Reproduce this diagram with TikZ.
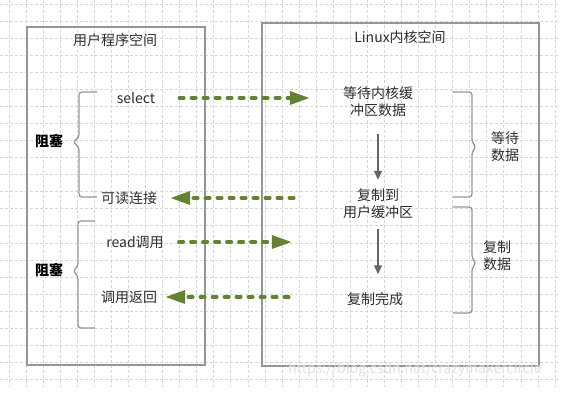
\documentclass[tikz,border=0pt]{standalone}
\usepackage{fontspec}
\setmainfont{Noto Sans CJK SC}
\usepackage{tikz}
\usetikzlibrary{arrows.meta}
\definecolor{callgreen}{RGB}{100,130,50}
\definecolor{framegray}{RGB}{150,150,150}
\definecolor{textgray}{RGB}{45,45,45}
\tikzstyle{gridline} = [black!16, line width=0.6pt, dash pattern=on 3pt off 2pt]
\tikzstyle{space} = [draw=framegray, line width=1.5pt]
\tikzstyle{txt} = [align=center, inner sep=0pt, text=textgray, font=\fontsize{14}{17}\selectfont]
\tikzstyle{block} = [txt, text=black, font=\fontsize{14}{17}\selectfont\bfseries]
\tikzstyle{call} = [line width=3.5pt, callgreen, line cap=round, dash pattern=on 4.5pt off 7.5pt, -{Triangle[length=20pt, width=13pt]}]
\tikzstyle{flow} = [line width=1.5pt, black!60, -{Triangle[length=9pt, width=8pt]}]
\tikzstyle{brace} = [draw=framegray, line width=1.3pt, rounded corners=3pt]

\begin{document}
\begin{tikzpicture}[x=1pt, y=-1pt]
        \useasboundingbox (0,0) rectangle (562,400);
        \foreach \i in {0,...,32} \draw[gridline] (9+17.06*\i,0) -- (9+17.06*\i,387);
        \foreach \j in {0,...,22} \draw[gridline] (0,4+17.06*\j) -- (560,4+17.06*\j);

        \draw[space] (27,27) rectangle (205,365);
        \draw[space] (262,23) rectangle (539,366);
        \node (user) [txt] at (115,40) {用户程序空间};
        \node (kernel) [txt] at (400,37) {Linux内核空间};

        \node (sel) [txt] at (136,98) {select};
        \node (readable) [txt] at (129,198) {可读连接};
        \node (readcall) [txt] at (135,242) {read调用};
        \node (ret) [txt] at (129,297) {调用返回};
        \node (block1) [block] at (49,141) {阻塞};
        \node (block2) [block] at (49,270) {阻塞};

        \node (wait) [txt] at (378,102) {等待内核缓\\冲区数据};
        \node (copy) [txt] at (378,204) {复制到\\用户缓冲区};
        \node (done) [txt] at (375,299) {复制完成};
        \node (waitdata) [txt] at (505,147) {等待\\数据};
        \node (copydata) [txt] at (497,256) {复制\\数据};
        \node (mark) [txt, text=black!12] at (415,370) {https://blog.csdn.net/crazymakercircle};

        \draw[call] ([xshift=24pt]sel.east) -- ([xshift=-33pt]sel.east -| wait.west);
        \draw[call] ([xshift=-49pt]readable.east -| copy.west) -- ([xshift=13pt]readable.east);
        \draw[call] ([xshift=15pt]readcall.east) -- ([xshift=-51pt]readcall.east -| copy.west);
        \draw[call] ([xshift=-58pt]ret.east -| done.west) -- ([xshift=8pt]ret.east);
        \draw[flow, shorten <=17pt, shorten >=9pt] (wait.south) -- (copy.north);
        \draw[flow, shorten <=10pt, shorten >=18pt] (copy.south) -- (copy.south |- done.north);

        \draw[brace] (97,92) -- (79,92) -- (79,137) -- (73,142) -- (79,147) -- (79,197) -- (97,197);
        \draw[brace] (95,221) -- (78,221) -- (78,266) -- (73,271) -- (78,276) -- (78,328) -- (95,328);
        \draw[brace] (453,92) -- (472,92) -- (472,142) -- (476,147) -- (472,152) -- (472,197) -- (453,197);
        \draw[brace] (453,207) -- (472,207) -- (472,258) -- (476,263) -- (472,268) -- (472,313) -- (453,313);
    \end{tikzpicture}
\end{document}
